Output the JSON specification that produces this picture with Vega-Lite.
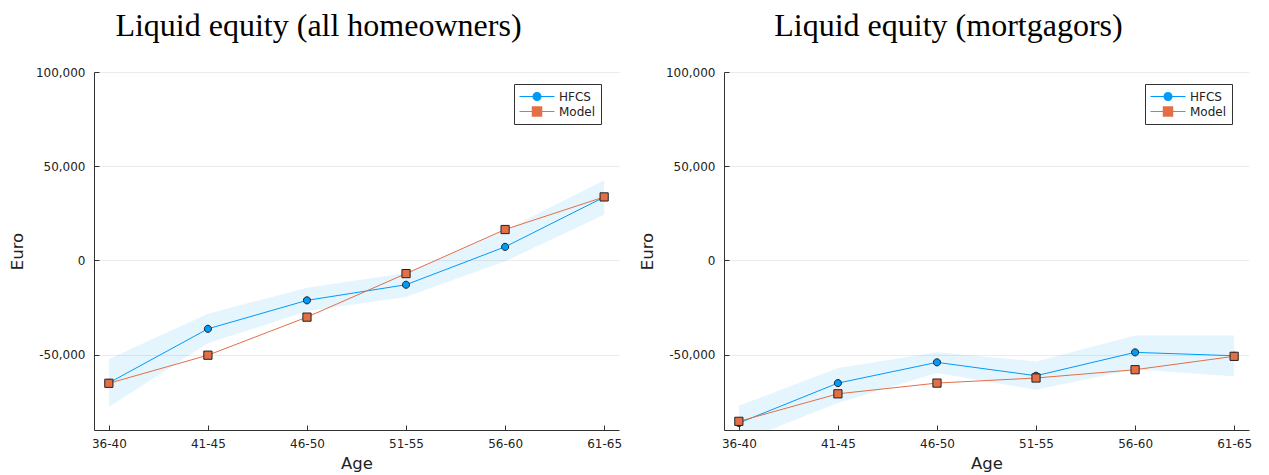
{
  "$schema": "https://vega.github.io/schema/vega-lite/v6.json",
  "background": "white",
  "padding": {"left": 9, "top": 10, "right": 5, "bottom": 5},
  "spacing": 17,
  "datasets": {
    "all_homeowners": [
      {"age": "36-40", "series": "HFCS", "value": -65000},
      {"age": "41-45", "series": "HFCS", "value": -36300},
      {"age": "46-50", "series": "HFCS", "value": -21200},
      {"age": "51-55", "series": "HFCS", "value": -12900},
      {"age": "56-60", "series": "HFCS", "value": 7200},
      {"age": "61-65", "series": "HFCS", "value": 33600},
      {"age": "36-40", "series": "Model", "value": -65200},
      {"age": "41-45", "series": "Model", "value": -50300},
      {"age": "46-50", "series": "Model", "value": -30100},
      {"age": "51-55", "series": "Model", "value": -7000},
      {"age": "56-60", "series": "Model", "value": 16400},
      {"age": "61-65", "series": "Model", "value": 33700}
    ],
    "all_homeowners_band": [
      {"age": "36-40", "lo": -77800, "hi": -52300},
      {"age": "41-45", "lo": -44000, "hi": -28300},
      {"age": "46-50", "lo": -27000, "hi": -14500},
      {"age": "51-55", "lo": -19400, "hi": -6700},
      {"age": "56-60", "lo": -500, "hi": 16000},
      {"age": "61-65", "lo": 24300, "hi": 42500}
    ],
    "mortgagors": [
      {"age": "36-40", "series": "HFCS", "value": -86300},
      {"age": "41-45", "series": "HFCS", "value": -65100},
      {"age": "46-50", "series": "HFCS", "value": -54100},
      {"age": "51-55", "series": "HFCS", "value": -61200},
      {"age": "56-60", "series": "HFCS", "value": -48800},
      {"age": "61-65", "series": "HFCS", "value": -50600},
      {"age": "36-40", "series": "Model", "value": -85400},
      {"age": "41-45", "series": "Model", "value": -70800},
      {"age": "46-50", "series": "Model", "value": -65100},
      {"age": "51-55", "series": "Model", "value": -62400},
      {"age": "56-60", "series": "Model", "value": -58000},
      {"age": "61-65", "series": "Model", "value": -50900}
    ],
    "mortgagors_band": [
      {"age": "36-40", "lo": -96500, "hi": -77100},
      {"age": "41-45", "lo": -75700, "hi": -57100},
      {"age": "46-50", "lo": -59800, "hi": -48800},
      {"age": "51-55", "lo": -68600, "hi": -53600},
      {"age": "56-60", "lo": -57700, "hi": -39800},
      {"age": "61-65", "lo": -61600, "hi": -39800}
    ]
  },
  "hconcat": [
    {
      "width": 525,
      "height": 358,
      "title": "Liquid equity (all homeowners)",
      "layer": [
        {
          "data": {"name": "all_homeowners_band"},
          "mark": {"type": "area", "clip": true, "fill": "#009AFA", "opacity": 0.1},
          "encoding": {
            "x": {"field": "age", "type": "ordinal", "scale": {"type": "point", "padding": 0.15}, "title": "Age"},
            "y": {"field": "lo", "type": "quantitative", "scale": {"domain": [-90000, 100000], "nice": false, "zero": false}, "title": "Euro", "axis": {"values": [-50000, 0, 50000, 100000], "format": ",d"}},
            "y2": {"field": "hi"}
          }
        },
        {
          "data": {"name": "all_homeowners"},
          "mark": {"type": "line", "clip": true, "strokeWidth": 1},
          "encoding": {
            "x": {"field": "age", "type": "ordinal"},
            "y": {"field": "value", "type": "quantitative"},
            "color": {
              "field": "series", "type": "nominal",
              "scale": {"domain": ["HFCS", "Model"], "range": ["#009AFA", "#E36F47"]},
              "legend": {"orient": "none", "legendX": 420, "legendY": 12, "title": null, "symbolType": "stroke", "symbolSize": 1225, "symbolStrokeWidth": 1, "clipHeight": 15, "rowPadding": 0, "padding": 5, "labelOffset": 4, "strokeColor": "#333", "fillColor": "white", "cornerRadius": 0}
            }
          }
        },
        {
          "data": {"name": "all_homeowners"},
          "mark": {"type": "point", "filled": true, "clip": true, "size": 750, "opacity": 1, "stroke": "#222", "strokeWidth": 1},
          "encoding": {
            "x": {"field": "age", "type": "ordinal"},
            "y": {"field": "value", "type": "quantitative"},
            "fill": {
              "field": "series", "type": "nominal",
              "scale": {"range": ["#009AFA", "#E36F47"]},
              "legend": {"orient": "none", "legendX": 420, "legendY": 12, "title": null, "symbolSize": 1225, "symbolStrokeColor": "#222", "symbolStrokeWidth": 1, "clipHeight": 15, "rowPadding": 0, "padding": 5, "labelOffset": 4, "labelOpacity": 0, "strokeColor": "transparent", "fillColor": "transparent"}
            },
            "shape": {
              "field": "series", "type": "nominal",
              "scale": {"range": ["M0.26,0A0.26,0.26,0,1,1,-0.26,0A0.26,0.26,0,1,1,0.26,0Z", "M-0.3,-0.3H0.3V0.3H-0.3Z"]},
              "legend": {"orient": "none", "legendX": 420, "legendY": 12, "title": null, "symbolSize": 1225, "symbolStrokeColor": "#222", "symbolStrokeWidth": 1, "clipHeight": 15, "rowPadding": 0, "padding": 5, "labelOffset": 4, "labelOpacity": 0, "strokeColor": "transparent", "fillColor": "transparent"}
            }
          }
        }
      ]
    },
    {
      "width": 525,
      "height": 358,
      "title": "Liquid equity (mortgagors)",
      "layer": [
        {
          "data": {"name": "mortgagors_band"},
          "mark": {"type": "area", "clip": true, "fill": "#009AFA", "opacity": 0.1},
          "encoding": {
            "x": {"field": "age", "type": "ordinal", "scale": {"type": "point", "padding": 0.15}, "title": "Age"},
            "y": {"field": "lo", "type": "quantitative", "scale": {"domain": [-90000, 100000], "nice": false, "zero": false}, "title": "Euro", "axis": {"values": [-50000, 0, 50000, 100000], "format": ",d"}},
            "y2": {"field": "hi"}
          }
        },
        {
          "data": {"name": "mortgagors"},
          "mark": {"type": "line", "clip": true, "strokeWidth": 1},
          "encoding": {
            "x": {"field": "age", "type": "ordinal"},
            "y": {"field": "value", "type": "quantitative"},
            "color": {
              "field": "series", "type": "nominal",
              "scale": {"domain": ["HFCS", "Model"], "range": ["#009AFA", "#E36F47"]},
              "legend": {"orient": "none", "legendX": 421, "legendY": 12, "title": null, "symbolType": "stroke", "symbolSize": 1225, "symbolStrokeWidth": 1, "clipHeight": 15, "rowPadding": 0, "padding": 5, "labelOffset": 4, "strokeColor": "#333", "fillColor": "white", "cornerRadius": 0}
            }
          }
        },
        {
          "data": {"name": "mortgagors"},
          "mark": {"type": "point", "filled": true, "clip": true, "size": 750, "opacity": 1, "stroke": "#222", "strokeWidth": 1},
          "encoding": {
            "x": {"field": "age", "type": "ordinal"},
            "y": {"field": "value", "type": "quantitative"},
            "fill": {
              "field": "series", "type": "nominal",
              "scale": {"range": ["#009AFA", "#E36F47"]},
              "legend": {"orient": "none", "legendX": 421, "legendY": 12, "title": null, "symbolSize": 1225, "symbolStrokeColor": "#222", "symbolStrokeWidth": 1, "clipHeight": 15, "rowPadding": 0, "padding": 5, "labelOffset": 4, "labelOpacity": 0, "strokeColor": "transparent", "fillColor": "transparent"}
            },
            "shape": {
              "field": "series", "type": "nominal",
              "scale": {"range": ["M0.26,0A0.26,0.26,0,1,1,-0.26,0A0.26,0.26,0,1,1,0.26,0Z", "M-0.3,-0.3H0.3V0.3H-0.3Z"]},
              "legend": {"orient": "none", "legendX": 421, "legendY": 12, "title": null, "symbolSize": 1225, "symbolStrokeColor": "#222", "symbolStrokeWidth": 1, "clipHeight": 15, "rowPadding": 0, "padding": 5, "labelOffset": 4, "labelOpacity": 0, "strokeColor": "transparent", "fillColor": "transparent"}
            }
          }
        }
      ]
    }
  ],
  "resolve": {
    "scale": {"x": "independent", "y": "independent", "color": "independent", "fill": "independent", "shape": "independent"},
    "legend": {"color": "independent", "fill": "independent", "shape": "independent"}
  },
  "config": {
    "locale": {"number": {"decimal": ".", "thousands": ",", "grouping": [3], "currency": ["$", ""], "minus": "-"}},
    "view": {"stroke": null},
    "title": {"font": "Liberation Serif", "fontSize": 32, "fontWeight": "normal", "color": "#000", "anchor": "middle", "frame": "bounds", "offset": 23, "dx": 3},
    "axis": {
      "domainColor": "#333", "domainWidth": 1,
      "tickColor": "#333", "tickSize": -5, "tickWidth": 1,
      "gridColor": "#000", "gridOpacity": 0.08,
      "labelFont": "DejaVu Sans", "labelFontSize": 12, "labelColor": "#222", "labelPadding": 14,
      "titleFont": "DejaVu Sans", "titleFontSize": 16.5, "titleFontWeight": "normal", "titleColor": "#222"
    },
    "axisX": {"labelAngle": 0, "labelPadding": 13, "titlePadding": 6},
    "axisY": {"titlePadding": 10},
    "legend": {"labelFont": "DejaVu Sans", "labelFontSize": 12, "labelColor": "#222"}
  }
}
